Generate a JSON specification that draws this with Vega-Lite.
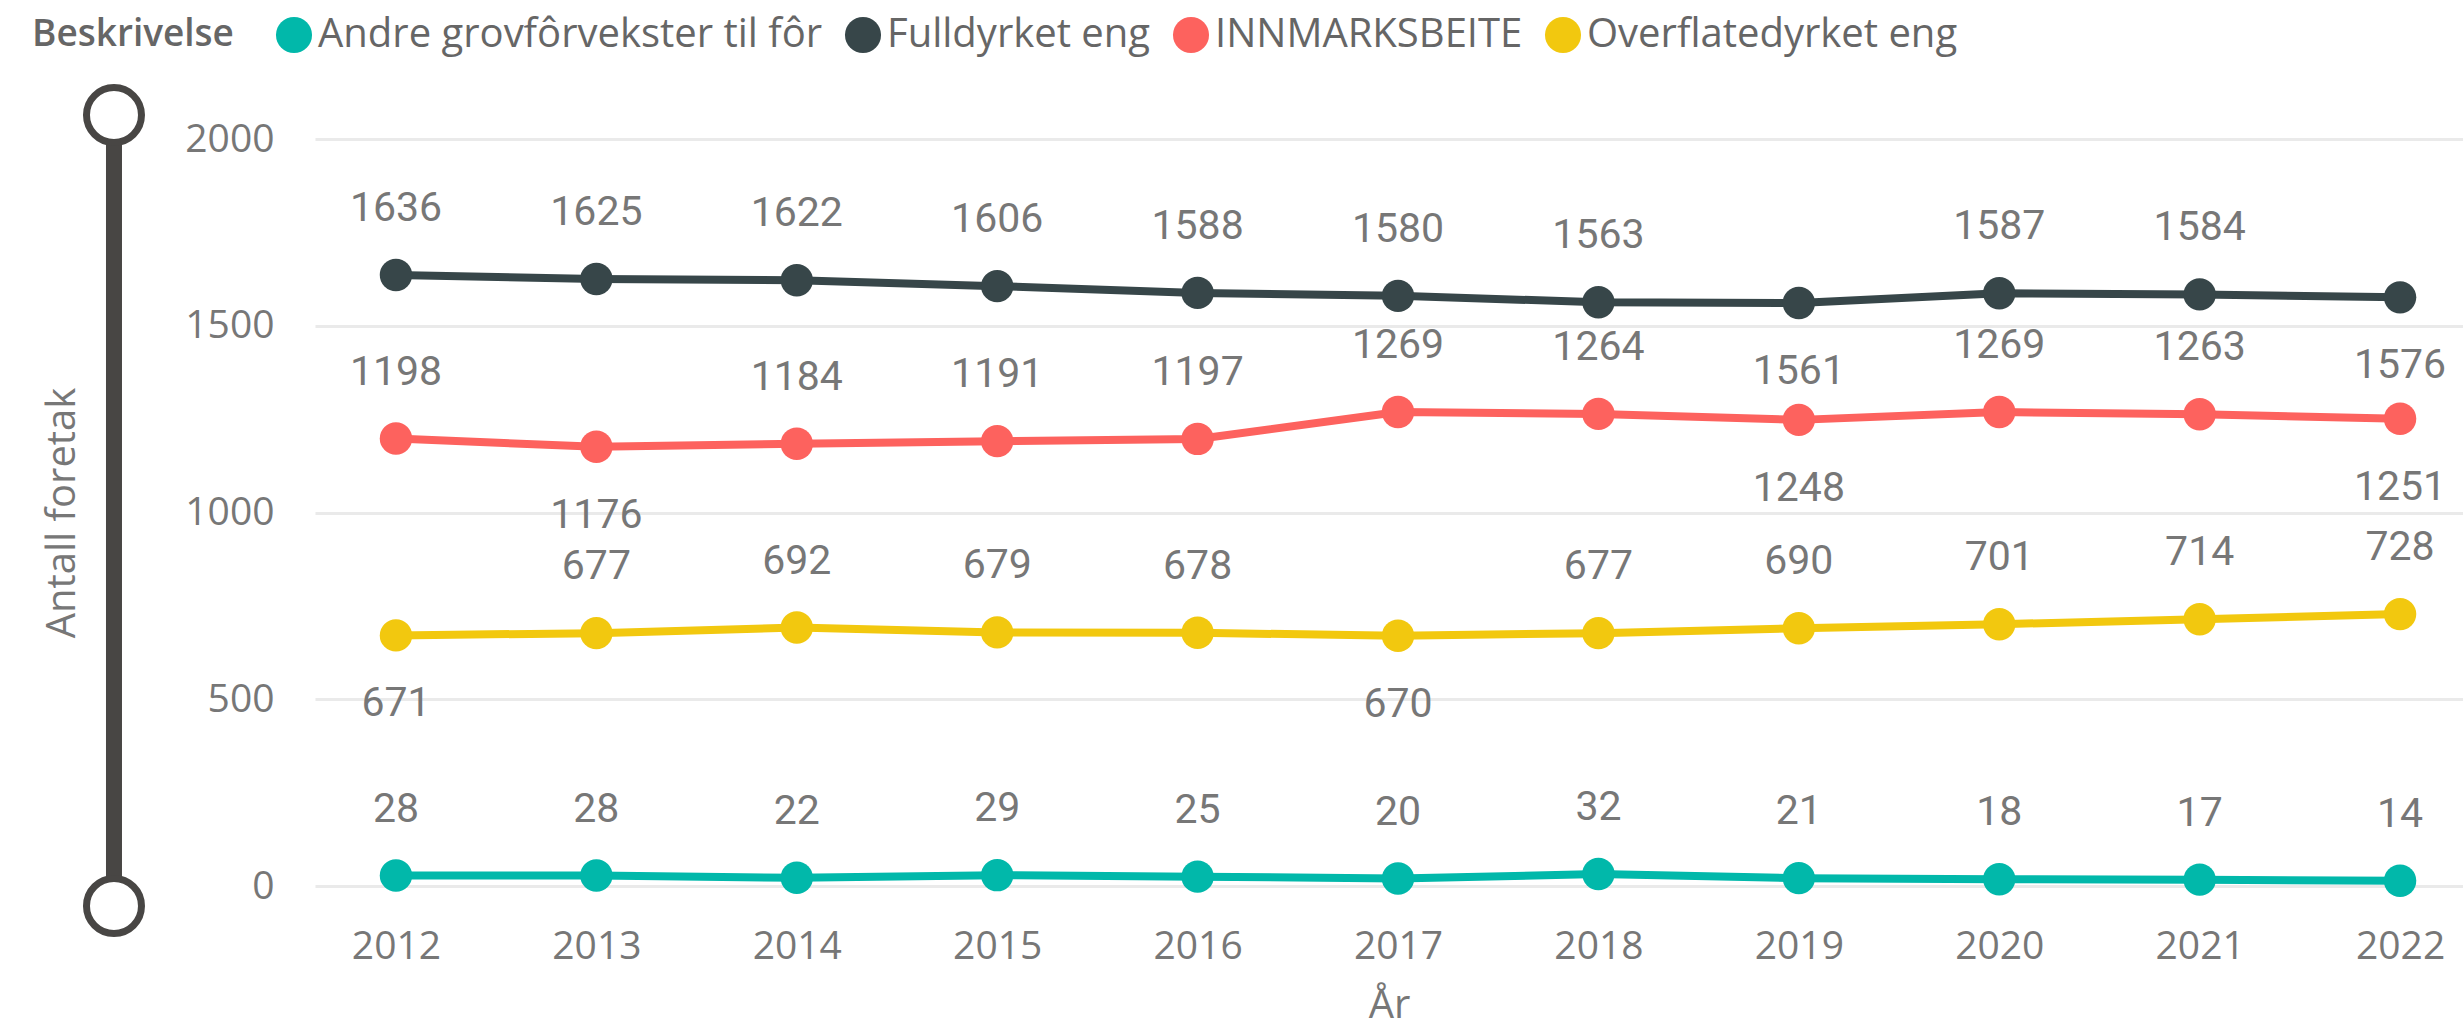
{
  "$schema": "https://vega.github.io/schema/vega-lite/v6.json",
  "width": 2148,
  "height": 747,
  "autosize": {"type": "none"},
  "padding": {"left": 315, "top": 139, "right": 0, "bottom": 144},
  "background": "white",
  "config": {
    "view": {"stroke": null},
    "font": "Open Sans",
    "axis": {
      "ticks": false, "domain": false,
      "labelFont": "Open Sans", "labelFontSize": 39, "labelColor": "#777777", "labelPadding": 41,
      "titleFont": "Open Sans", "titleFontSize": 40, "titleFontWeight": "normal", "titleColor": "#777777"
    },
    "axisX": {"grid": false, "titlePadding": 19, "labelFlush": false, "labelOverlap": false},
    "axisY": {"grid": true, "gridColor": "#EAEAEA", "gridWidth": 3, "titlePadding": 102}
  },
  "data": {
    "values": [
      {"year": 2012, "s": "Andre grovfôrvekster til fôr", "v": 28},
      {"year": 2013, "s": "Andre grovfôrvekster til fôr", "v": 28},
      {"year": 2014, "s": "Andre grovfôrvekster til fôr", "v": 22},
      {"year": 2015, "s": "Andre grovfôrvekster til fôr", "v": 29},
      {"year": 2016, "s": "Andre grovfôrvekster til fôr", "v": 25},
      {"year": 2017, "s": "Andre grovfôrvekster til fôr", "v": 20},
      {"year": 2018, "s": "Andre grovfôrvekster til fôr", "v": 32},
      {"year": 2019, "s": "Andre grovfôrvekster til fôr", "v": 21},
      {"year": 2020, "s": "Andre grovfôrvekster til fôr", "v": 18},
      {"year": 2021, "s": "Andre grovfôrvekster til fôr", "v": 17},
      {"year": 2022, "s": "Andre grovfôrvekster til fôr", "v": 14},
      {"year": 2012, "s": "Fulldyrket eng", "v": 1636},
      {"year": 2013, "s": "Fulldyrket eng", "v": 1625},
      {"year": 2014, "s": "Fulldyrket eng", "v": 1622},
      {"year": 2015, "s": "Fulldyrket eng", "v": 1606},
      {"year": 2016, "s": "Fulldyrket eng", "v": 1588},
      {"year": 2017, "s": "Fulldyrket eng", "v": 1580},
      {"year": 2018, "s": "Fulldyrket eng", "v": 1563},
      {"year": 2019, "s": "Fulldyrket eng", "v": 1561},
      {"year": 2020, "s": "Fulldyrket eng", "v": 1587},
      {"year": 2021, "s": "Fulldyrket eng", "v": 1584},
      {"year": 2022, "s": "Fulldyrket eng", "v": 1576},
      {"year": 2012, "s": "INNMARKSBEITE", "v": 1198},
      {"year": 2013, "s": "INNMARKSBEITE", "v": 1176},
      {"year": 2014, "s": "INNMARKSBEITE", "v": 1184},
      {"year": 2015, "s": "INNMARKSBEITE", "v": 1191},
      {"year": 2016, "s": "INNMARKSBEITE", "v": 1197},
      {"year": 2017, "s": "INNMARKSBEITE", "v": 1269},
      {"year": 2018, "s": "INNMARKSBEITE", "v": 1264},
      {"year": 2019, "s": "INNMARKSBEITE", "v": 1248},
      {"year": 2020, "s": "INNMARKSBEITE", "v": 1269},
      {"year": 2021, "s": "INNMARKSBEITE", "v": 1263},
      {"year": 2022, "s": "INNMARKSBEITE", "v": 1251},
      {"year": 2012, "s": "Overflatedyrket eng", "v": 671},
      {"year": 2013, "s": "Overflatedyrket eng", "v": 677},
      {"year": 2014, "s": "Overflatedyrket eng", "v": 692},
      {"year": 2015, "s": "Overflatedyrket eng", "v": 679},
      {"year": 2016, "s": "Overflatedyrket eng", "v": 678},
      {"year": 2017, "s": "Overflatedyrket eng", "v": 670},
      {"year": 2018, "s": "Overflatedyrket eng", "v": 677},
      {"year": 2019, "s": "Overflatedyrket eng", "v": 690},
      {"year": 2020, "s": "Overflatedyrket eng", "v": 701},
      {"year": 2021, "s": "Overflatedyrket eng", "v": 714},
      {"year": 2022, "s": "Overflatedyrket eng", "v": 728}
    ]
  },
  "layer": [
    {
      "transform": [{"aggregate": [{"op": "count", "as": "n"}]}],
      "mark": {"type": "rule", "color": "#484644", "strokeWidth": 16, "clip": false},
      "encoding": {
        "x": {"datum": 2010.593, "type": "quantitative", "title": "År"},
        "y": {"datum": -53.5, "type": "quantitative", "title": "Antall foretak"},
        "y2": {"datum": 2064}
      }
    },
    {
      "transform": [{"aggregate": [{"op": "count", "as": "n"}]}],
      "mark": {"type": "point", "shape": "circle", "filled": false, "fill": "white", "stroke": "#484644", "strokeWidth": 7, "size": 3025, "opacity": 1, "clip": false},
      "encoding": {
        "x": {"datum": 2010.593, "type": "quantitative", "title": "År"},
        "y": {"datum": 2064, "type": "quantitative", "title": "Antall foretak"}
      }
    },
    {
      "transform": [{"aggregate": [{"op": "count", "as": "n"}]}],
      "mark": {"type": "point", "shape": "circle", "filled": false, "fill": "white", "stroke": "#484644", "strokeWidth": 7, "size": 3025, "opacity": 1, "clip": false},
      "encoding": {
        "x": {"datum": 2010.593, "type": "quantitative", "title": "År"},
        "y": {"datum": -53.5, "type": "quantitative", "title": "Antall foretak"}
      }
    },
    {
      "mark": {"type": "line", "strokeWidth": 8, "strokeCap": "round", "strokeJoin": "round"},
      "encoding": {
        "x": {
          "field": "year", "type": "quantitative", "title": "År",
          "scale": {"domain": [2011.596, 2022.314], "nice": false, "zero": false},
          "axis": {"values": [2012, 2013, 2014, 2015, 2016, 2017, 2018, 2019, 2020, 2021, 2022], "format": "d"}
        },
        "y": {
          "field": "v", "type": "quantitative", "title": "Antall foretak",
          "scale": {"domain": [0, 2000], "nice": false},
          "axis": {"values": [0, 500, 1000, 1500, 2000], "format": "d"}
        },
        "color": {
          "field": "s", "type": "nominal",
          "scale": {
            "domain": ["Andre grovfôrvekster til fôr", "Fulldyrket eng", "INNMARKSBEITE", "Overflatedyrket eng"],
            "range": ["#01B8AA", "#374649", "#FD625E", "#F2C80F"]
          },
          "legend": {
            "title": "Beskrivelse", "orient": "none", "legendX": -283, "legendY": -124,
            "direction": "horizontal", "titleOrient": "left", "titleLimit": 1000,
            "titleFont": "Open Sans", "titleFontSize": 37, "titleFontWeight": 600, "titleColor": "#666666",
            "titlePadding": 40,
            "labelFont": "Open Sans", "labelFontSize": 40, "labelColor": "#666666",
            "symbolType": "circle", "symbolSize": 1300, "symbolStrokeWidth": 0,
            "labelOffset": 4, "columnPadding": 20, "labelLimit": 1000
          }
        }
      }
    },
    {
      "mark": {"type": "point", "filled": true, "size": 1050, "opacity": 1, "shape": "circle"},
      "encoding": {
        "x": {"field": "year", "type": "quantitative", "title": "År"},
        "y": {"field": "v", "type": "quantitative", "title": "Antall foretak"},
        "color": {"field": "s", "type": "nominal"}
      }
    },
    {
      "transform": [
        {"filter": "!((datum.s == 'Fulldyrket eng' && (datum.year == 2019 || datum.year == 2022)) || (datum.s == 'INNMARKSBEITE' && (datum.year == 2013 || datum.year == 2019 || datum.year == 2022)) || (datum.s == 'Overflatedyrket eng' && (datum.year == 2012 || datum.year == 2017)))"}
      ],
      "mark": {"type": "text", "font": "Roboto", "fontSize": 41, "color": "#777777", "baseline": "middle", "dy": -66},
      "encoding": {
        "x": {"field": "year", "type": "quantitative", "title": "År"},
        "y": {"field": "v", "type": "quantitative", "title": "Antall foretak"},
        "text": {"field": "v", "type": "quantitative", "format": "d"}
      }
    },
    {
      "transform": [
        {"filter": "(datum.s == 'Fulldyrket eng' && (datum.year == 2019 || datum.year == 2022)) || (datum.s == 'INNMARKSBEITE' && (datum.year == 2013 || datum.year == 2019 || datum.year == 2022)) || (datum.s == 'Overflatedyrket eng' && (datum.year == 2012 || datum.year == 2017))"}
      ],
      "mark": {"type": "text", "font": "Roboto", "fontSize": 41, "color": "#777777", "baseline": "middle", "dy": 69},
      "encoding": {
        "x": {"field": "year", "type": "quantitative", "title": "År"},
        "y": {"field": "v", "type": "quantitative", "title": "Antall foretak"},
        "text": {"field": "v", "type": "quantitative", "format": "d"}
      }
    }
  ]
}
